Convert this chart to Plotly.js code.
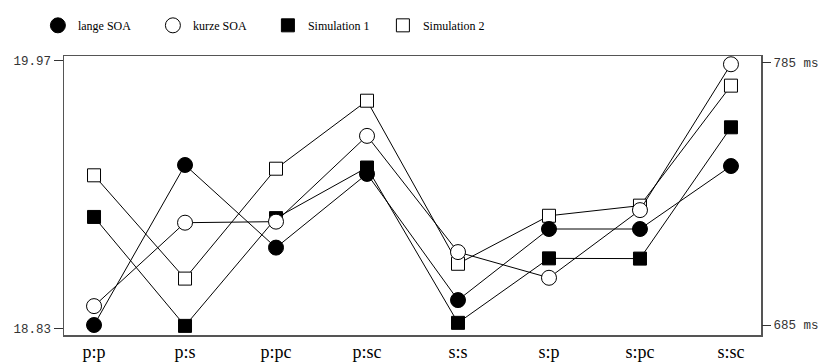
<!DOCTYPE html>
<html>
<head>
<meta charset="utf-8">
<script src="https://cdn.plot.ly/plotly-3.0.1.min.js"></script>
<style>html,body{margin:0;padding:0;background:#fff;}#chart{width:824px;height:362px;}</style>
</head>
<body>
<div id="chart"></div>
<script>
// Categories (prime:target conditions)
const categories = ['p:p', 'p:s', 'p:pc', 'p:sc', 's:s', 's:p', 's:pc', 's:sc'];

// Experimental reaction times (ms), right axis
const langeSOA = [685.0, 746.0, 714.5, 742.6, 694.5, 721.6, 721.6, 745.6];
const kurzeSOA = [692.2, 724.0, 724.4, 757.1, 712.8, 703.0, 728.8, 784.4];

// Simulation results (iterations), left axis
const simulation1 = [19.306, 18.843, 19.301, 19.516, 18.856, 19.130, 19.129, 19.687];
const simulation2 = [19.483, 19.044, 19.511, 19.800, 19.107, 19.311, 19.354, 19.864];

// Axis tick labels
const leftTickVals = [18.83, 19.97];
const leftTickText = ['18.83', '19.97'];
const rightTickVals = [685, 785];
const rightTickText = ['685 ms', '785 ms'];

const seriesNames = ['lange SOA', 'kurze SOA', 'Simulation 1', 'Simulation 2'];

const series = [
  {name: seriesNames[0], y: langeSOA, axis: 'y2', symbol: 'circle', fill: '#000', size: 15},
  {name: seriesNames[1], y: kurzeSOA, axis: 'y2', symbol: 'circle', fill: '#fff', size: 15},
  {name: seriesNames[2], y: simulation1, axis: 'y', symbol: 'square', fill: '#000', size: 13},
  {name: seriesNames[3], y: simulation2, axis: 'y', symbol: 'square', fill: '#fff', size: 13}
];

const traces = [];
// lines first (underneath all markers)
series.forEach(s => {
  traces.push({
    x: categories, y: s.y, yaxis: s.axis, type: 'scatter', mode: 'lines',
    line: {color: '#000', width: 1}, showlegend: false, hoverinfo: 'skip'
  });
});
// markers on top
series.forEach(s => {
  traces.push({
    x: categories, y: s.y, yaxis: s.axis, type: 'scatter', mode: 'markers', name: s.name,
    marker: {symbol: s.symbol, size: s.size, color: s.fill, line: {color: '#000', width: 1}}
  });
});

const layout = {
  width: 824, height: 362,
  margin: {l: 64, r: 63, t: 56, b: 27, pad: 0},
  paper_bgcolor: '#fff', plot_bgcolor: '#fff',
  showlegend: true,
  legend: {
    orientation: 'h', xref: 'container', yref: 'container',
    x: 0.046, xanchor: 'left', y: 0.93, yanchor: 'middle',
    entrywidth: 70, entrywidthmode: 'pixels',
    font: {family: '"Liberation Serif", "Times New Roman", serif', size: 12, color: '#000'},
    bgcolor: 'rgba(0,0,0,0)', borderwidth: 0, itemclick: false
  },
  xaxis: {
    type: 'category', range: [-0.33, 7.33],
    showgrid: false, zeroline: false, showline: true, mirror: true,
    linecolor: '#555', linewidth: 1.5, ticks: '',
    tickfont: {family: '"Liberation Serif", "Times New Roman", serif', size: 18, color: '#000'}
  },
  yaxis: {
    range: [18.8043, 19.99], showgrid: false, zeroline: false,
    showline: true, mirror: true, linecolor: '#555', linewidth: 1.5,
    ticks: 'outside', ticklen: 9, tickcolor: '#333', tickwidth: 1,
    tickmode: 'array', tickvals: leftTickVals, ticktext: leftTickText,
    tickfont: {family: '"Liberation Mono", "DejaVu Sans Mono", monospace', size: 12.5, color: '#333'}
  },
  yaxis2: {
    overlaying: 'y', side: 'right',
    range: [681.19, 787.55], showgrid: false, zeroline: false, showline: false,
    ticks: 'outside', ticklen: 9, tickcolor: '#333', tickwidth: 1,
    tickmode: 'array', tickvals: rightTickVals, ticktext: rightTickText,
    tickfont: {family: '"Liberation Mono", "DejaVu Sans Mono", monospace', size: 12.5, color: '#333'}
  }
};

Plotly.newPlot('chart', traces, layout, {staticPlot: true, displayModeBar: false});
</script>
</body>
</html>
